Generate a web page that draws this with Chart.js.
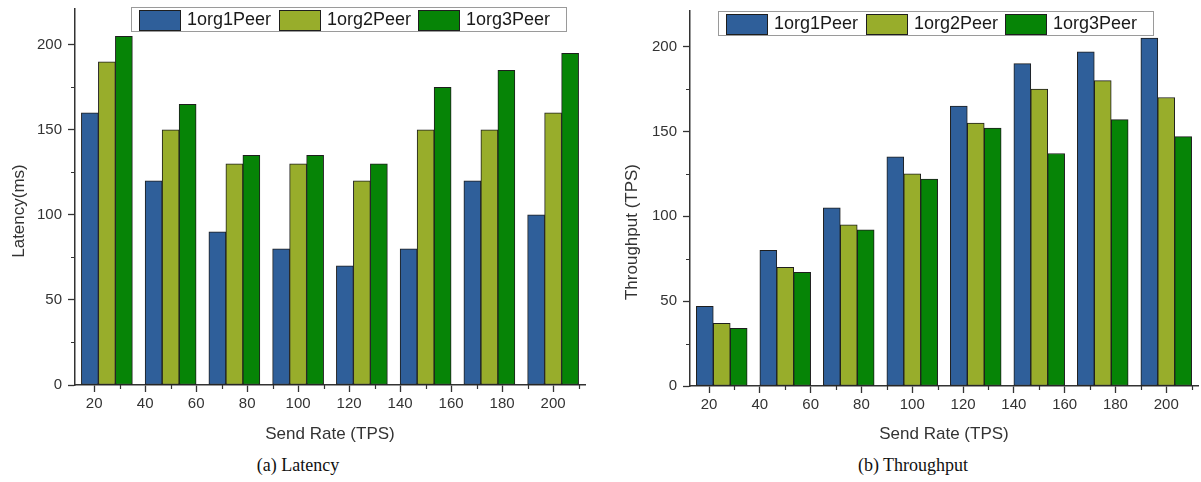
<!DOCTYPE html>
<html>
<head>
<meta charset="utf-8">
<script src="https://cdn.jsdelivr.net/npm/chart.js@4.4.1/dist/chart.umd.min.js"></script>
<style>
  html, body { margin: 0; padding: 0; background: #fff; }
  #wrap { position: relative; width: 1201px; height: 482px; overflow: hidden; }
  .pane { position: absolute; top: 0; }
  .cap { position: absolute; top: 455px; font: 18px "Liberation Serif", "Times New Roman", serif;
         color: #111; transform: translateX(-50%); white-space: nowrap; line-height: 21px; }
</style>
</head>
<body>
<div id="wrap">
  <div class="pane" style="left:0"><canvas id="latency" width="600" height="450"></canvas></div>
  <div class="pane" style="left:600px"><canvas id="throughput" width="601" height="450"></canvas></div>
  <div class="cap" style="left:298px">(a) Latency</div>
  <div class="cap" style="left:913px">(b) Throughput</div>
</div>
<script>
// Series and groups
const seriesNames = ['1org1Peer', '1org2Peer', '1org3Peer'];
const seriesColors = ['#2f5f9a', '#98ad2b', '#068406'];
const groupSendRates = [25, 50, 75, 100, 125, 150, 175, 200];

// Axis ticks
const sendRateTicks = [20, 40, 60, 80, 100, 120, 140, 160, 180, 200];
const sendRateMinorTicks = [30, 50, 70, 90, 110, 130, 150, 170, 190, 210];
const valueTicks = [0, 50, 100, 150, 200];
const valueMinorTicks = [25, 75, 125, 175];

// Latency (ms)
const latency1org1Peer = [160, 120, 90, 80, 70, 80, 120, 100];
const latency1org2Peer = [190, 150, 130, 130, 120, 150, 150, 160];
const latency1org3Peer = [205, 165, 135, 135, 130, 175, 185, 195];

// Throughput (TPS)
const throughput1org1Peer = [47, 80, 105, 135, 165, 190, 197, 205];
const throughput1org2Peer = [37, 70, 95, 125, 155, 175, 180, 170];
const throughput1org3Peer = [34, 67, 92, 122, 152, 137, 157, 147];

const FONT = '"Liberation Sans", Arial, Helvetica, sans-serif';
const INK = '#333333';
Chart.defaults.font.family = FONT;
Chart.defaults.color = INK;

// Boxed legend laid over the plot
const boxLegend = {
  id: 'boxLegend',
  afterDraw(chart, args, opts) {
    const ctx = chart.ctx;
    const L = opts.left, T = opts.top;
    ctx.save();
    ctx.fillStyle = '#ffffff';
    ctx.fillRect(L, T, 435, 24);
    ctx.strokeStyle = '#9a9a9a';
    ctx.lineWidth = 1;
    ctx.strokeRect(L + 0.5, T + 0.5, 435, 24);
    ctx.font = '18px ' + FONT;
    ctx.textBaseline = 'middle';
    chart.data.datasets.forEach((ds, i) => {
      const sx = Math.round(L + 8 + i * 139.5);
      ctx.fillStyle = ds.backgroundColor;
      ctx.fillRect(sx, T + 3, 41, 20);
      ctx.strokeStyle = '#1e1e1e';
      ctx.strokeRect(sx + 0.5, T + 3.5, 41, 20);
      ctx.fillStyle = '#1a1a1a';
      ctx.fillText(ds.label, sx + 48, T + 13.5);
    });
    ctx.restore();
  }
};

// Short minor tick marks on both axes
const minorTicks = {
  id: 'minorTicks',
  afterDraw(chart) {
    const { x, y } = chart.scales;
    const ctx = chart.ctx;
    ctx.save();
    ctx.strokeStyle = INK;
    ctx.lineWidth = 1.2;
    ctx.beginPath();
    sendRateMinorTicks.forEach(v => {
      const p = Math.round(x.getPixelForValue(v)) + 0.5;
      ctx.moveTo(p, y.bottom);
      ctx.lineTo(p, y.bottom + 4);
    });
    valueMinorTicks.forEach(v => {
      const p = Math.round(y.getPixelForValue(v)) + 0.5;
      ctx.moveTo(x.left - 4, p);
      ctx.lineTo(x.left, p);
    });
    ctx.stroke();
    ctx.restore();
  }
};

// Rotated value-axis title
const sideTitle = {
  id: 'sideTitle',
  afterDraw(chart, args, opts) {
    const ctx = chart.ctx;
    ctx.save();
    ctx.translate(opts.x, opts.y);
    ctx.rotate(-Math.PI / 2);
    ctx.textAlign = 'center';
    ctx.textBaseline = 'middle';
    ctx.font = '17px ' + FONT;
    ctx.fillStyle = INK;
    ctx.fillText(opts.text, 0, 0);
    ctx.restore();
  }
};

function groupedBars(canvasId, seriesValues, cfg) {
  const datasets = seriesValues.map((vals, i) => ({
    label: seriesNames[i],
    data: groupSendRates.map((x, j) => ({ x: x, y: vals[j] })),
    backgroundColor: seriesColors[i],
    borderColor: '#1e1e1e',
    borderWidth: 1,
    borderSkipped: false,
    categoryPercentage: 1.0,
    barPercentage: 1.0
  }));

  const axisBorder = { display: true, color: INK, width: 1.5 };

  return new Chart(document.getElementById(canvasId), {
    type: 'bar',
    data: { datasets },
    options: {
      responsive: false,
      animation: false,
      layout: { padding: { top: cfg.padTop, right: cfg.padRight, left: 0, bottom: 0 } },
      plugins: {
        legend: { display: false },
        tooltip: { enabled: false },
        boxLegend: { left: cfg.legendLeft, top: cfg.legendTop },
        sideTitle: { text: cfg.yTitle, x: cfg.yTitleX, y: cfg.yTitleY }
      },
      scales: {
        x: {
          type: 'linear',
          offset: false,
          min: 12.5,
          max: 212.5,
          afterBuildTicks: s => { s.ticks = sendRateTicks.map(v => ({ value: v })); },
          afterFit: s => { s.height = cfg.xAxisHeight; },
          grid: { offset: false, drawOnChartArea: false, drawTicks: true, tickLength: 7, color: INK, tickWidth: 1.3 },
          border: axisBorder,
          ticks: { color: INK, font: { size: 15 }, padding: 3, maxRotation: 0, autoSkip: false },
          title: { display: true, text: 'Send Rate (TPS)', color: INK, font: { size: 17 }, padding: { top: 0, bottom: 5 } }
        },
        y: {
          type: 'linear',
          min: 0,
          max: 221,
          afterBuildTicks: s => { s.ticks = valueTicks.map(v => ({ value: v })); },
          afterFit: s => { s.width = cfg.yAxisWidth; s.paddingTop = 0; s.paddingBottom = 0; },
          grid: { drawOnChartArea: false, drawTicks: true, tickLength: 7, color: INK, tickWidth: 1.3 },
          border: axisBorder,
          ticks: { color: INK, font: { size: 15 }, padding: 6 }
        }
      }
    },
    plugins: [minorTicks, boxLegend, sideTitle]
  });
}

groupedBars('latency', [latency1org1Peer, latency1org2Peer, latency1org3Peer], {
  yTitle: 'Latency(ms)', yTitleX: 19, yTitleY: 211,
  yAxisWidth: 75, padTop: 9, padRight: 15, xAxisHeight: 65,
  legendLeft: 131, legendTop: 7
});

groupedBars('throughput', [throughput1org1Peer, throughput1org2Peer, throughput1org3Peer], {
  yTitle: 'Throughput (TPS)', yTitleX: 32, yTitleY: 232,
  yAxisWidth: 90, padTop: 11, padRight: 3, xAxisHeight: 64,
  legendLeft: 118, legendTop: 11
});
</script>
</body>
</html>
